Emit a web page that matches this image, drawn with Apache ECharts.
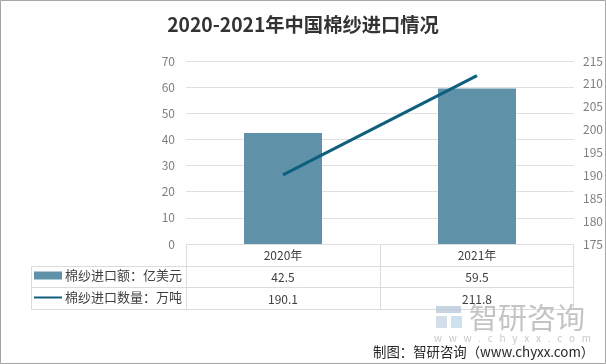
<!DOCTYPE html>
<html><head><meta charset="utf-8">
<style>html,body{margin:0;padding:0;background:#fff}#c{width:606px;height:364px}</style>
<script src="https://cdn.jsdelivr.net/npm/echarts@6/dist/echarts.min.js"></script>
</head><body><div id="c"></div>
<script>
const categories = ['2020年','2021年'];
const amountName = '棉纱进口额：亿美元';
const amountValues = [42.5,59.5];
const quantityName = '棉纱进口数量：万吨';
const quantityValues = [190.1,211.8];
const quantityLabels = ['190.1','211.8'];
const titleText = '2020-2021年中国棉纱进口情况';
const creditText = '制图：智研咨询（www.chyxx.com）';
const watermarkUrl = 'w   w   w   .   c   h   y   x   x   .   c   o   m';
const font = '"Noto Sans CJK SC","Noto Sans",sans-serif';
const line = (x1,y1,x2,y2,color) => ({type:'line',silent:true,shape:{x1,y1,x2,y2},style:{stroke:color||'#dcdcdc',lineWidth:1}});
const txt = (x,y,text,size,fill,extra) => ({type:'text',silent:true,x,y,style:Object.assign({text,fontSize:size,fill,fontFamily:font,textVerticalAlign:'middle'},extra||{})});
const chart = echarts.init(document.getElementById('c'));
chart.setOption({
  animation:false,
  backgroundColor:'#fff',
  title:{text:titleText,left:'center',top:15,textStyle:{fontFamily:font,fontSize:19.3,fontWeight:'bold',color:'#333'},padding:0},
  grid:{left:186,width:388,top:61,height:183},
  legend:{orient:'vertical',left:33,top:267,itemGap:5,itemWidth:28,itemHeight:8,padding:0,
    textStyle:{fontFamily:font,fontSize:13,color:'#404040',padding:[0,0,0,-2],lineHeight:17},
    data:[{name:amountName,icon:'rect'},{name:quantityName,itemStyle:{opacity:0}}]},
  xAxis:{type:'category',data:categories,
    axisLine:{show:false},axisTick:{show:false},
    axisLabel:{margin:1,lineHeight:21.7,fontSize:12,fontFamily:font,color:'#404040',
      formatter:(v,i)=>[v,amountValues[i],quantityLabels[i]].join('\n')}},
  yAxis:[
    {type:'value',min:0,max:70,interval:10,axisLine:{show:false},axisTick:{show:false},
     axisLabel:{margin:11,fontSize:12,color:'#7f7f7f',fontFamily:font,padding:[0,0,2,0]},splitLine:{lineStyle:{color:'#e0e0e0',width:1}}},
    {type:'value',min:175,max:215,interval:5,position:'right',axisLine:{show:false},axisTick:{show:false},
     axisLabel:{margin:9,fontSize:12,color:'#7f7f7f',fontFamily:font,padding:[0,0,2,0]},splitLine:{show:false}}
  ],
  series:[
    {name:amountName,type:'bar',data:amountValues,barWidth:78,itemStyle:{color:'#5f92a9'}},
    {name:quantityName,type:'line',yAxisIndex:1,data:quantityValues,symbol:'none',lineStyle:{color:'#0e5f7e',width:3},itemStyle:{color:'#0e5f7e'}}
  ],
  graphic:[
    {type:'rect',silent:true,shape:{x:0.5,y:0.5,width:605,height:363},style:{fill:'none',stroke:'#a6a6a6',lineWidth:1}},
    line(186,244.5,574,244.5),line(31,266.5,574,266.5),line(31,287.5,574,287.5),line(31,309.5,574,309.5),
    line(31.5,266,31.5,310),line(186.5,244,186.5,310),line(380.5,244,380.5,310),line(573.5,244,573.5,310),
    {type:'rect',silent:true,shape:{x:436,y:306,width:25,height:7},style:{fill:'#b7c6d8',opacity:.75}},
    {type:'rect',silent:true,shape:{x:436,y:316,width:11,height:12},style:{fill:'#c6d2e0',opacity:.75}},
    {type:'rect',silent:true,shape:{x:451,y:316,width:11,height:12},style:{fill:'#bcd7e8',opacity:.75}},
    txt(469,318,'智研咨询',29,'#c4c4c4'),
    txt(434,338,watermarkUrl,10,'#c8c8c8'),
    txt(373,352,creditText,13.4,'#262626')
  ]
});
</script></body></html>
